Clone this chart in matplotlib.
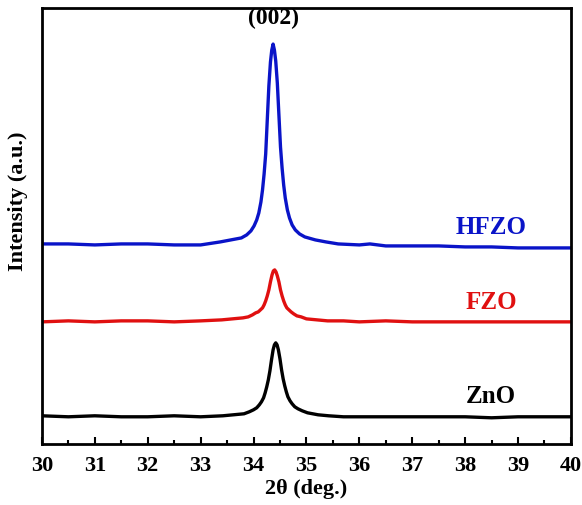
import matplotlib
matplotlib.use('Agg')
import matplotlib.pyplot as plt
from matplotlib.ticker import MultipleLocator

# 2theta / intensity (a.u.), curves already stacked
zno_x = [30.0, 30.5, 31.0, 31.5, 32.0, 32.5, 33.0,
         33.42, 33.62, 33.82, 33.92, 34.00, 34.06, 34.11, 34.15, 34.19, 34.22, 34.25, 34.28,
         34.31, 34.34, 34.37, 34.395, 34.42,
         34.445, 34.47, 34.50, 34.53, 34.56, 34.59, 34.62, 34.65, 34.69, 34.73, 34.78, 34.84,
         34.92, 35.02, 35.22, 35.42,
         35.7, 36.0, 36.5, 37.0, 37.5, 38.0, 38.5, 39.0, 39.5, 40.0]
zno_y = [28, 27, 28, 27, 27, 28, 27,
         28, 29, 30, 32, 34, 36, 39, 42, 46, 51, 57, 64,
         73, 84, 94, 99, 101,
         99, 94, 85, 74, 65, 58, 52, 47, 43, 40, 37, 35,
         33, 31, 29, 28,
         27, 27, 27, 27, 27, 27, 26, 27, 27, 27]

fzo_x = [30.0, 30.5, 31.0, 31.5, 32.0, 32.5, 33.0,
         33.40, 33.60, 33.80, 33.90, 33.98, 34.04, 34.09, 34.13, 34.17, 34.20, 34.23, 34.26,
         34.29, 34.32, 34.35, 34.375, 34.40,
         34.425, 34.45, 34.48, 34.51, 34.54, 34.57, 34.60, 34.63, 34.67, 34.71, 34.76, 34.82,
         34.90, 35.00, 35.20, 35.40,
         35.7, 36.0, 36.5, 37.0, 37.5, 38.0, 38.5, 39.0, 39.5, 40.0]
fzo_y = [122, 123, 122, 123, 123, 122, 123,
         124, 125, 126, 127, 129, 131, 132, 134, 136, 139, 143, 148,
         154, 162, 169, 173, 174,
         172, 168, 162, 154, 148, 143, 139, 136, 134, 132, 130, 128,
         127, 125, 124, 123,
         123, 122, 123, 122, 122, 122, 122, 122, 122, 122]

hfzo_x = [30.0, 30.5, 31.0, 31.5, 32.0, 32.5, 33.0,
          33.37, 33.57, 33.77, 33.87, 33.95, 34.01, 34.06, 34.10, 34.14, 34.17, 34.20, 34.23,
          34.26, 34.29, 34.32, 34.345, 34.37,
          34.395, 34.42, 34.45, 34.48, 34.51, 34.54, 34.57, 34.60, 34.64, 34.68, 34.73, 34.79,
          34.87, 34.97, 35.17, 35.37,
          35.6, 36.0, 36.2, 36.5, 37.0, 37.5, 38.0, 38.5, 39.0, 39.5, 40.0]
hfzo_y = [200, 200, 199, 200, 200, 199, 199,
          202, 204, 206, 209, 213, 218, 224, 231, 242, 254, 270, 290,
          324, 358, 382, 394, 400,
          394, 383, 361, 329, 297, 276, 259, 246, 234, 226, 219, 214,
          210, 207, 204, 202,
          200, 199, 200, 198, 198, 198, 197, 197, 196, 196, 196]

names = ['ZnO', 'FZO', 'HFZO']
colors = ['black', '#e01010', '#0a14c8']
label_y = [48, 142, 217]

plt.rcParams['font.family'] = ['Liberation Serif', 'DejaVu Serif']
plt.rcParams['font.weight'] = 'bold'

fig = plt.figure(figsize=(5.82, 5.06), dpi=100)
ax = fig.add_axes([0.072, 0.121, 0.909, 0.861])

ax.plot(zno_x, zno_y, color=colors[0], lw=2.4)
ax.plot(fzo_x, fzo_y, color=colors[1], lw=2.4)
ax.plot(hfzo_x, hfzo_y, color=colors[2], lw=2.4)

for n, c, yy in zip(names, colors, label_y):
    ax.text(38.49, yy, n, color=c, fontsize=18, fontweight='bold', ha='center', va='center')

ax.text(34.37, 427, '(002)', fontsize=17, fontweight='bold', ha='center', va='center')

ax.set_xlim(30, 40)
ax.set_ylim(0, 436)
ax.xaxis.set_major_locator(MultipleLocator(1))
ax.xaxis.set_minor_locator(MultipleLocator(0.5))
ax.set_yticks([])
ax.tick_params(axis='x', which='major', direction='in', length=5, width=1.5,
               labelsize=16, pad=8, top=False)
ax.tick_params(axis='x', which='minor', direction='in', length=3, width=1.5, top=False)
for s in ax.spines.values():
    s.set_linewidth(2)

ax.set_xlabel('2θ (deg.)', fontsize=16, fontweight='bold', labelpad=2)
ax.set_ylabel('Intensity (a.u.)', fontsize=16, fontweight='bold')
ax.yaxis.set_label_coords(-0.026, 0.56)

fig.savefig('out.png', dpi=100)
